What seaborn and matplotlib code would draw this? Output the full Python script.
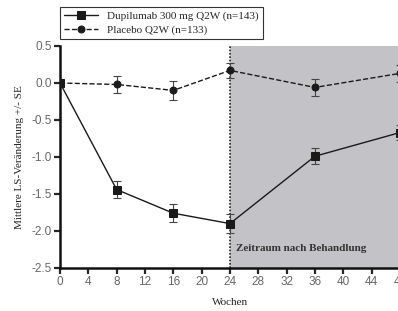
import matplotlib
matplotlib.use("Agg")
import matplotlib.pyplot as plt
import seaborn as sns
import pandas as pd

weeks = [0, 8, 16, 24, 36, 48]
dupi_mean = [0.0, -1.44, -1.76, -1.90, -0.99, -0.67]
dupi_se = [0.0, 0.11, 0.12, 0.13, 0.11, 0.10]
plac_mean = [0.0, -0.02, -0.10, 0.17, -0.06, 0.13]
plac_se = [0.0, 0.12, 0.13, 0.10, 0.11, 0.11]
series_names = ["Dupilumab 300 mg Q2W (n=143)", "Placebo Q2W (n=133)"]
x_ticks = list(range(0, 49, 4))
y_ticks = [0.5, 0.0, -0.5, -1.0, -1.5, -2.0, -2.5]

df = pd.DataFrame({
    "week": weeks * 2,
    "mean": dupi_mean + plac_mean,
    "se": dupi_se + plac_se,
    "group": [series_names[0]] * 6 + [series_names[1]] * 6,
})

sns.set_style("ticks")
serif = ["Liberation Serif", "DejaVu Serif"]
plt.rcParams["font.family"] = ["Liberation Sans", "DejaVu Sans"]

fig = plt.figure(figsize=(3.98, 3.11), dpi=100)
ax = fig.add_axes([0.1508, 0.1383, 0.854, 0.7138])

ax.axvspan(24, 48, color="#c3c3c7", zorder=0, lw=0)
ax.axvline(24, color="#222222", ls=(0, (1, 1)), lw=1.2, zorder=1)

styles = {series_names[0]: ("s", "-", 5.5), series_names[1]: ("o", "--", 5)}
for name, sub in df.groupby("group", sort=False):
    marker, ls, ms = styles[name]
    ax.errorbar(sub["week"], sub["mean"], yerr=sub["se"], fmt="none",
                ecolor="#444444", elinewidth=0.8, capsize=3, capthick=0.8, zorder=2)
    sns.lineplot(data=sub, x="week", y="mean", ax=ax, color="#1a1a1a",
                 marker=marker, markersize=ms, linestyle=ls, linewidth=1.0,
                 markeredgecolor="#1a1a1a", label=name, zorder=3)

ax.set_xlim(0, 48)
ax.set_ylim(-2.5, 0.5)
ax.set_xticks(x_ticks)
ax.set_yticks(y_ticks)
ax.set_yticklabels([f"{v:.1f}" for v in y_ticks])
ax.tick_params(axis="both", length=4, width=1.6, labelsize=8.5, labelcolor="#666666",
               direction="out", pad=2)
for s in ["left", "bottom"]:
    ax.spines[s].set_linewidth(1.8)
    ax.spines[s].set_color("#111111")
for s in ["top", "right"]:
    ax.spines[s].set_visible(False)

ax.set_xlabel("Wochen", family=serif, fontsize=8, color="#222222", labelpad=7)
ax.set_ylabel("Mittlere LS-Veränderung +/- SE", family=serif, fontsize=8,
              color="#222222", labelpad=5)

ax.text(24.8, -2.23, "Zeitraum nach Behandlung", family=serif, fontweight="bold",
        fontsize=8, color="#333333", va="center", ha="left")

leg = ax.legend(loc="lower left", bbox_to_anchor=(0.0, 1.03), frameon=True,
                fancybox=False, edgecolor="#333333", framealpha=1,
                prop={"family": serif, "size": 8}, handlelength=3,
                borderpad=0.4, labelspacing=0.35, borderaxespad=0)
leg.get_frame().set_linewidth(0.8)

fig.savefig("out.png", dpi=100)
